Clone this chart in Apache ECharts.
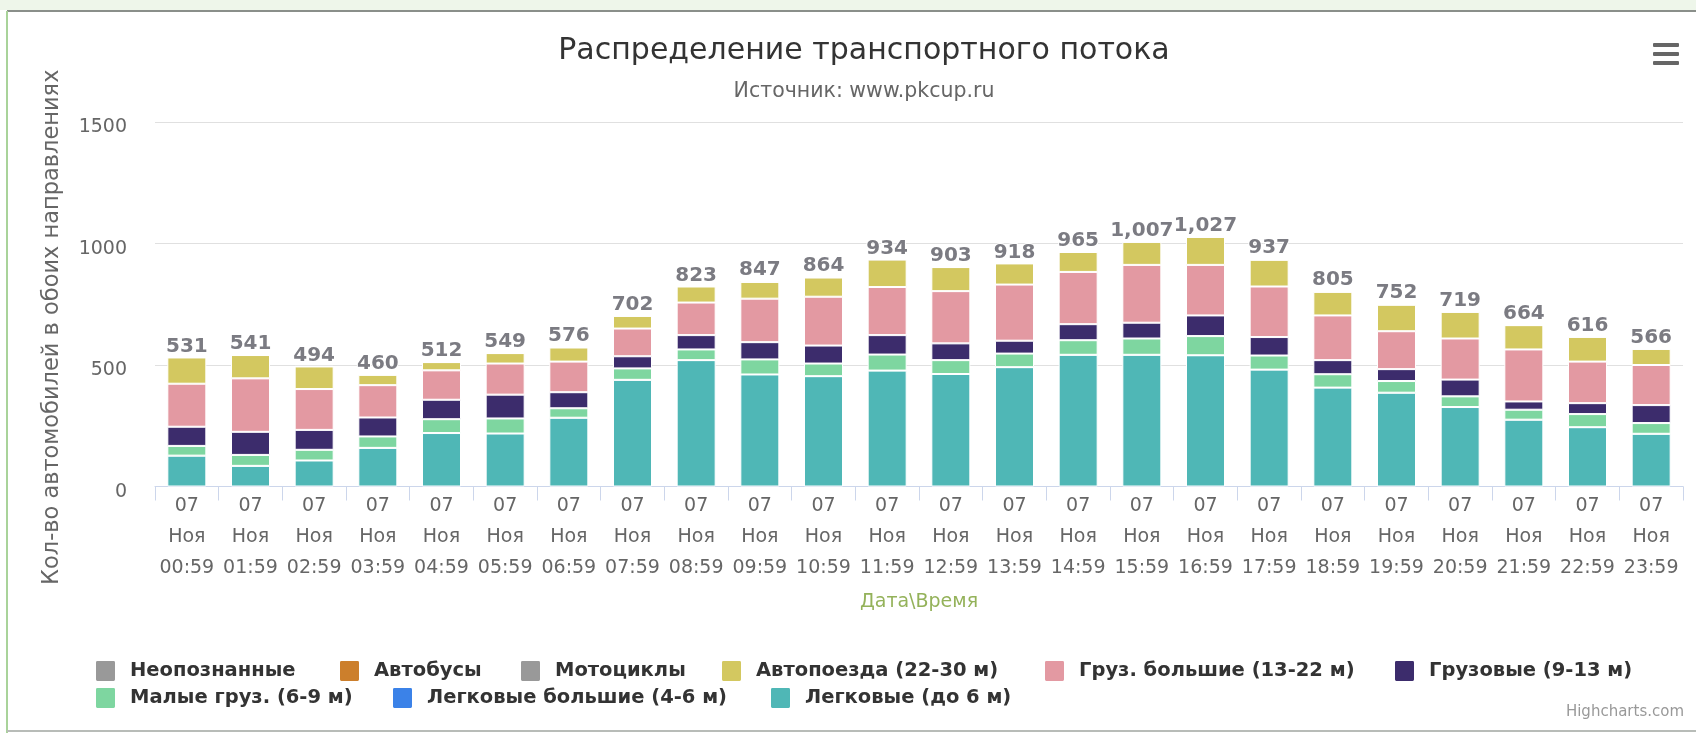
<!DOCTYPE html>
<html>
<head>
<meta charset="utf-8">
<title>Распределение транспортного потока</title>
<script src="https://cdn.jsdelivr.net/npm/echarts@6/dist/echarts.min.js"></script>
<style>
	html, body { margin: 0; padding: 0; background: #fff; }
	#chart { width: 1696px; height: 733px; }
</style>
</head>
<body>
<div id="chart"></div>
<script>
"use strict";

var DAY = '07';
var MONTH = 'Ноя';
var hours = ['00:59', '01:59', '02:59', '03:59', '04:59', '05:59', '06:59', '07:59', '08:59', '09:59', '10:59', '11:59',
	'12:59', '13:59', '14:59', '15:59', '16:59', '17:59', '18:59', '19:59', '20:59', '21:59', '22:59', '23:59'];

// values per hour (bottom of the stack first)
var legkovye = [127, 85, 107, 159, 220, 218, 283, 439, 520, 461, 454, 477, 463, 491, 542, 542, 540, 481, 407, 386, 327, 275, 244, 217];
var legkovyeBig = [0, 0, 0, 0, 0, 0, 0, 0, 0, 0, 0, 0, 0, 0, 0, 0, 0, 0, 0, 0, 0, 0, 0, 0];
var malyeGruz = [40, 45, 44, 47, 57, 62, 39, 47, 44, 62, 52, 66, 57, 56, 60, 67, 79, 58, 55, 48, 44, 41, 54, 44];
var gruzovye = [79, 95, 82, 78, 80, 98, 66, 50, 59, 71, 74, 80, 69, 53, 66, 65, 85, 76, 58, 49, 69, 34, 45, 74];
var gruzBig = [177, 220, 168, 133, 121, 128, 126, 114, 134, 179, 201, 198, 215, 231, 215, 238, 208, 208, 184, 156, 169, 214, 171, 165];
var avtopoezda = [108, 96, 93, 43, 34, 43, 58, 52, 66, 69, 79, 113, 99, 87, 82, 95, 115, 110, 97, 109, 110, 100, 102, 66];
var motocikly = [0, 0, 0, 0, 0, 0, 0, 0, 0, 0, 0, 0, 0, 0, 0, 0, 0, 0, 0, 0, 0, 0, 0, 0];
var avtobusy = [0, 0, 0, 0, 0, 0, 4, 0, 0, 5, 4, 0, 0, 0, 0, 0, 0, 4, 4, 4, 0, 0, 0, 0];
var neopoznannye = [0, 0, 0, 0, 0, 0, 0, 0, 0, 0, 0, 0, 0, 0, 0, 0, 0, 0, 0, 0, 0, 0, 0, 0];

var yTicks = [0, 500, 1000, 1500];

var FONT = '"DejaVu Sans", Verdana, sans-serif';
var LEGEND_ICON = 'path://M2,0H16Q18,0,18,2V16Q18,18,16,18H2Q0,18,0,16V2Q0,0,2,0Z';

// legend order as in the picture, and where each item sits
var legendOrder = ['Неопознанные', 'Автобусы', 'Мотоциклы', 'Автопоезда (22-30 м)', 'Груз. большие (13-22 м)',
	'Грузовые (9-13 м)', 'Малые груз. (6-9 м)', 'Легковые большие (4-6 м)', 'Легковые (до 6 м)'];
var legendLeft = [94, 338, 519, 720, 1043, 1393, 94, 391, 769];
var legendTop = [659, 659, 659, 659, 659, 659, 686, 686, 686];

function buildCategories() {
	var list = [];
	for (var i = 0; i < hours.length; i++) {
		list.push(DAY + '\n' + MONTH + '\n' + hours[i]);
	}
	return list;
}

function stackTotals(parts) {
	var totals = [];
	for (var i = 0; i < hours.length; i++) {
		var sum = 0;
		for (var p = 0; p < parts.length; p++) {
			sum += parts[p][i];
		}
		totals.push(sum);
	}
	return totals;
}

function stacked(name, data, color) {
	return {
		name: name,
		type: 'bar',
		stack: 'flow',
		barWidth: 39,
		data: data,
		itemStyle: {
			color: color,
			borderColor: '#ffffff',
			borderWidth: 1
		},
		emphasis: { disabled: true }
	};
}

var seriesList = [
	stacked('Легковые (до 6 м)', legkovye, '#4fb7b6'),
	stacked('Легковые большие (4-6 м)', legkovyeBig, '#3b82e8'),
	stacked('Малые груз. (6-9 м)', malyeGruz, '#7ed6a0'),
	stacked('Грузовые (9-13 м)', gruzovye, '#3c2c6c'),
	stacked('Груз. большие (13-22 м)', gruzBig, '#e399a2'),
	stacked('Автопоезда (22-30 м)', avtopoezda, '#d3c860'),
	stacked('Мотоциклы', motocikly, '#999999'),
	stacked('Автобусы', avtobusy, '#cc7f2c'),
	stacked('Неопознанные', neopoznannye, '#999999')
];

var totals = stackTotals([legkovye, legkovyeBig, malyeGruz, gruzovye, gruzBig, avtopoezda, motocikly, avtobusy, neopoznannye]);

// invisible bar behind the stack, only carries the total label
seriesList.push({
	name: 'total',
	type: 'bar',
	barWidth: 39,
	barGap: '-100%',
	z: 1,
	silent: true,
	data: totals,
	itemStyle: { color: 'rgba(0,0,0,0)' },
	label: {
		show: true,
		position: 'top',
		distance: 1,
		fontFamily: FONT,
		fontSize: 20,
		fontWeight: 'bold',
		color: '#7b7b82',
		textBorderColor: '#ffffff',
		textBorderWidth: 2,
		formatter: function(p) {
			return p.value.toLocaleString('en-US');
		}
	}
});

var legends = [];
for (var li = 0; li < legendOrder.length; li++) {
	legends.push({
		data: [legendOrder[li]],
		left: legendLeft[li],
		top: legendTop[li],
		padding: 0,
		icon: LEGEND_ICON,
		itemWidth: 21,
		itemHeight: 22,
		symbolKeepAspect: false,
		textStyle: {
			fontFamily: FONT,
			fontSize: 19.5,
			fontWeight: 'bold',
			color: '#333333',
			padding: [0, 0, 0, 9]
		}
	});
}

var chart = echarts.init(document.getElementById('chart'));

chart.setOption({
	animation: false,
	backgroundColor: '#ffffff',
	title: [{
		text: 'Распределение транспортного потока',
		left: 859,
		top: 31,
		textAlign: 'center',
		textStyle: { fontFamily: FONT, fontSize: 30, fontWeight: 'normal', color: '#333333' }
	}, {
		text: 'Источник: www.pkcup.ru',
		left: 859,
		top: 76,
		textAlign: 'center',
		textStyle: { fontFamily: FONT, fontSize: 20.5, fontWeight: 'normal', color: '#666666' }
	}],
	legend: legends,
	grid: {
		left: 155,
		right: 13,
		top: 122,
		bottom: 246.5,
		containLabel: false
	},
	xAxis: {
		type: 'category',
		data: buildCategories(),
		boundaryGap: true,
		name: 'Дата\\Время',
		nameLocation: 'middle',
		nameGap: 106,
		nameTextStyle: { fontFamily: FONT, fontSize: 19, color: '#94b25a' },
		axisLine: { lineStyle: { color: '#ccd6eb', width: 1 } },
		axisTick: { show: true, length: 14, lineStyle: { color: '#ccd6eb' } },
		axisLabel: {
			interval: 0,
			margin: 4,
			fontFamily: FONT,
			fontSize: 19,
			lineHeight: 31,
			color: '#666666'
		},
		splitLine: { show: false }
	},
	yAxis: {
		type: 'value',
		min: yTicks[0],
		max: yTicks[yTicks.length - 1],
		interval: yTicks[1] - yTicks[0],
		name: 'Кол-во автомобилей в обоих направлениях',
		nameLocation: 'middle',
		nameRotate: 90,
		nameGap: 91,
		nameTextStyle: { fontFamily: FONT, fontSize: 22.5, color: '#666666', padding: [0, 46, 0, 0] },
		axisLine: { show: false },
		axisTick: { show: false },
		axisLabel: {
			margin: 28,
			fontFamily: FONT,
			fontSize: 19,
			lineHeight: 11,
			color: '#666666',
			// empty first line pushes the number a little below its grid line
			formatter: function(v) {
				return '\n' + v;
			}
		},
		splitLine: { lineStyle: { color: '#e0e0e0', width: 1 } }
	},
	series: seriesList,
	graphic: [
		// frame of the original screenshot
		{ type: 'rect', shape: { x: 0, y: 0, width: 1696, height: 10 }, style: { fill: '#eef6ea' }, silent: true },
		{ type: 'line', shape: { x1: 7, y1: 11, x2: 1696, y2: 11 }, style: { stroke: '#8a8f8a', lineWidth: 2 }, silent: true },
		{ type: 'line', shape: { x1: 7, y1: 11, x2: 7, y2: 733 }, style: { stroke: '#a9d39a', lineWidth: 2 }, silent: true },
		{ type: 'line', shape: { x1: 7, y1: 731, x2: 1696, y2: 731 }, style: { stroke: '#b8bcb8', lineWidth: 2 }, silent: true },
		// export menu icon
		{ type: 'rect', shape: { x: 1653, y: 43, width: 26, height: 4, r: 1 }, style: { fill: '#666666' }, silent: true },
		{ type: 'rect', shape: { x: 1653, y: 52, width: 26, height: 4, r: 1 }, style: { fill: '#666666' }, silent: true },
		{ type: 'rect', shape: { x: 1653, y: 61, width: 26, height: 4, r: 1 }, style: { fill: '#666666' }, silent: true },
		// credit
		{
			type: 'text',
			right: 12,
			top: 705,
			style: { text: 'Highcharts.com', fontFamily: FONT, fontSize: 15, fill: '#999999' },
			silent: true
		}
	]
});
</script>
</body>
</html>
